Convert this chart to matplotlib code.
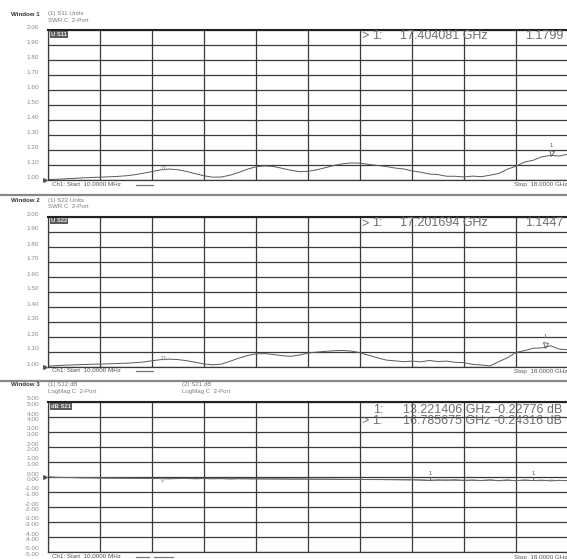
import matplotlib
matplotlib.use('Agg')
import matplotlib.pyplot as plt
import matplotlib.transforms as mtrans
import numpy as np

plt.rcParams['font.family'] = ['Liberation Sans', 'DejaVu Sans']

# ---------------- data ----------------
START_GHZ = 0.01
STOP_GHZ = 18.0

S11_SWR = [1.003, 1.005, 1.008, 1.011, 1.014, 1.017, 1.019, 1.021, 1.024, 1.028,
           1.035, 1.045, 1.056, 1.068, 1.073, 1.068, 1.057, 1.042, 1.028, 1.019,
           1.020, 1.032, 1.050, 1.072, 1.088, 1.094, 1.090, 1.078, 1.065, 1.056,
           1.058, 1.068, 1.082, 1.097, 1.108, 1.114, 1.112, 1.104, 1.097, 1.090,
           1.080, 1.074, 1.061, 1.052, 1.040, 1.036, 1.025, 1.025, 1.020, 1.026,
           1.022, 1.032, 1.043, 1.072, 1.092, 1.120, 1.132, 1.155, 1.164, 1.160,
           1.172]

S22_SWR = [1.002, 1.006, 1.009, 1.011, 1.013, 1.015, 1.016, 1.018, 1.020, 1.022,
           1.025, 1.030, 1.038, 1.046, 1.049, 1.046, 1.039, 1.028, 1.017, 1.011,
           1.016, 1.035, 1.055, 1.073, 1.084, 1.086, 1.080, 1.072, 1.068, 1.076,
           1.090, 1.096, 1.101, 1.105, 1.107, 1.103, 1.092, 1.075, 1.058, 1.043,
           1.038, 1.032, 1.036, 1.031, 1.040, 1.033, 1.036, 1.028, 1.026, 1.014,
           1.010, 1.004, 1.032, 1.058, 1.094, 1.106, 1.122, 1.124, 1.138, 1.116,
           1.112]

S12_DB = [0.00, -0.02, -0.03, -0.04, -0.05, -0.05, -0.06, -0.07, -0.07, -0.08,
          -0.08, -0.09, -0.09, -0.10, -0.12, -0.10, -0.10, -0.11, -0.10, -0.11,
          -0.11, -0.12, -0.11, -0.12, -0.12, -0.13, -0.12, -0.13, -0.14, -0.13,
          -0.14, -0.15, -0.14, -0.15, -0.16, -0.15, -0.16, -0.17, -0.16, -0.18,
          -0.17, -0.19, -0.18, -0.21, -0.23, -0.19, -0.22, -0.18, -0.24, -0.20,
          -0.23, -0.19, -0.25, -0.21, -0.24, -0.20, -0.24, -0.21, -0.26, -0.22,
          -0.25]

S21_DB = [0.00, -0.03, -0.04, -0.04, -0.06, -0.06, -0.07, -0.07, -0.08, -0.08,
          -0.09, -0.09, -0.10, -0.10, -0.11, -0.11, -0.10, -0.12, -0.11, -0.12,
          -0.11, -0.13, -0.12, -0.12, -0.13, -0.13, -0.14, -0.13, -0.14, -0.15,
          -0.14, -0.15, -0.16, -0.15, -0.15, -0.17, -0.16, -0.17, -0.18, -0.17,
          -0.19, -0.18, -0.20, -0.19, -0.21, -0.22, -0.19, -0.23, -0.20, -0.22,
          -0.24, -0.21, -0.23, -0.20, -0.25, -0.22, -0.23, -0.25, -0.21, -0.24,
          -0.23]

SWR_TICKS = [1.00, 1.10, 1.20, 1.30, 1.40, 1.50, 1.60, 1.70, 1.80, 1.90, 2.00]
DB_TICKS = [-5.00, -4.00, -3.00, -2.00, -1.00, 0.00, 1.00, 2.00, 3.00, 4.00, 5.00]

W1_MARK_F, W1_MARK_V = 17.404081, 1.1799
W2_MARK_F, W2_MARK_V = 17.201694, 1.1447
W3_MARK_F = [13.221406, 16.785675]
W3_MARK_V = [-0.22776, -0.24316]
AUX_MARK_F = 4.0   # faint secondary marker seen in every window

# ---------------- layout ----------------
W, H = 567, 559
fig = plt.figure(figsize=(W / 100, H / 100), dpi=100)
fig.patch.set_facecolor('white')

def fx(px):
    return px / W

def fy(py):
    return 1 - py / H

GRID = '#3a3a3a'
TRACE = '#5a5a5a'
LABEL = '#8a8a8a'
BIG = '#6e6e6e'

def make_ax(top, bottom, ylim, yticks, double=False):
    ax = fig.add_axes([fx(48), fy(bottom), fx(568) - fx(48), fy(top) - fy(bottom)])
    ax.set_xlim(START_GHZ, STOP_GHZ)
    ax.set_ylim(*ylim)
    ax.set_xticks(np.linspace(START_GHZ, STOP_GHZ, 11))
    ax.set_yticks(yticks)
    ax.tick_params(length=0, labelleft=False, labelbottom=False)
    ax.grid(True, color=GRID, lw=0.9)
    for s in ax.spines.values():
        s.set_color(GRID)
        s.set_linewidth(0.9)
    ax.spines['top'].set_linewidth(1.5)
    ax.spines['top'].set_color('#222222')
    for v in yticks:
        offs = [3, -2.5] if double else [2.5]
        for o in offs:
            ax.annotate(f'{v:.2f}', xy=(0, v), xycoords=('axes fraction', 'data'),
                        xytext=(-9, o), textcoords='offset pixels',
                        ha='right', va='center', fontsize=4.6, color=LABEL)
    return ax

def ref_arrow(ax, v):
    tr = mtrans.blended_transform_factory(ax.transAxes, ax.transData)
    ax.plot([-0.005], [v], marker='>', ms=2.6, color='#555555', transform=tr,
            clip_on=False, lw=0)

def header(y, win, lines):
    fig.text(fx(11), fy(y), win, fontsize=4.4, weight='bold', color='#333333', va='center')
    for (x, yy, t) in lines:
        fig.text(fx(x), fy(yy), t, fontsize=4.4, color='#7a7a7a', va='center')

def footer(y, nlines):
    fig.text(fx(52), fy(y), 'Ch1: Start  10.0000 MHz', fontsize=4.5, color='#555555', va='center')
    segs = [(136, 153)] if nlines == 1 else [(136, 149), (154, 173)]
    for a, b in segs:
        fig.add_artist(plt.Line2D([fx(a), fx(b)], [fy(y), fy(y)], color='#777777', lw=0.9))
    fig.text(fx(514), fy(y), 'Stop  18.0000 GHz', fontsize=4.5, color='#555555', va='center')

def tag(x, y, t):
    fig.text(fx(x), fy(y), t, fontsize=4.2, color='#e8e8e8', va='center', weight='bold',
             bbox=dict(boxstyle='square,pad=0.15', fc='#5c5c5c', ec='none'))

def big(y, parts):
    for x, t in parts:
        fig.text(fx(x), fy(y), t, fontsize=9, color=BIG, va='center')

def marker(ax, f, v, label='1', dy=3.0):
    ax.plot([f], [v], marker='v', ms=3.6, mfc='none', mec='#555555', mew=0.6, lw=0)
    ax.annotate(label, xy=(f, v), xytext=(0, dy + 5), textcoords='offset pixels',
                ha='center', va='center', fontsize=4.2, color='#555555')

def aux_marker(ax, f, v):
    ax.plot([f], [v], marker='v', ms=2.6, mfc='none', mec='#9a9a9a', mew=0.5, lw=0)

def sweep(vals):
    return np.linspace(START_GHZ, STOP_GHZ, len(vals))

# ---------------- Window 1 ----------------
header(14, 'Window 1', [(48, 13.5, '(1) S11 Units'), (48, 20, 'SWR C  2-Port')])
ax1 = make_ax(30, 180, (1.0, 2.0), SWR_TICKS)
f1 = sweep(S11_SWR)
ax1.plot(f1, S11_SWR, color=TRACE, lw=0.7)
ref_arrow(ax1, 1.0)
marker(ax1, W1_MARK_F, W1_MARK_V)
aux_marker(ax1, AUX_MARK_F, np.interp(AUX_MARK_F, f1, S11_SWR) + 0.008)
tag(51, 34.5, 'U S11')
big(36, [(361, '>'), (372, '1:'), (400, '17.404081 GHz'), (525, f'{W1_MARK_V:.4f}')])
footer(184.5, 1)

fig.add_artist(plt.Line2D([0, 1], [fy(195), fy(195)], color='#888888', lw=1.6))

# ---------------- Window 2 ----------------
header(201, 'Window 2', [(48, 200.5, '(1) S22 Units'), (48, 207, 'SWR C  2-Port')])
ax2 = make_ax(216.5, 366.5, (1.0, 2.0), SWR_TICKS)
f2 = sweep(S22_SWR)
ax2.plot(f2, S22_SWR, color=TRACE, lw=0.7)
ref_arrow(ax2, 1.0)
marker(ax2, W2_MARK_F, W2_MARK_V)
aux_marker(ax2, AUX_MARK_F, np.interp(AUX_MARK_F, f2, S22_SWR) + 0.008)
tag(51, 221, 'U S22')
big(223.5, [(361, '>'), (372, '1:'), (400, '17.201694 GHz'), (525, f'{W2_MARK_V:.4f}')])
footer(371, 1)

fig.add_artist(plt.Line2D([0, 1], [fy(381), fy(381)], color='#888888', lw=1.6))

# ---------------- Window 3 ----------------
header(385, 'Window 3', [(48, 384.5, '(1) S12 dB'), (48, 391.5, 'LogMag C  2-Port'),
                         (182, 384.5, '(2) S21 dB'), (182, 391.5, 'LogMag C  2-Port')])
ax3 = make_ax(402, 552, (-5.0, 5.0), DB_TICKS, double=True)
f3 = sweep(S12_DB)
ax3.plot(f3, S12_DB, color=TRACE, lw=0.7)
ax3.plot(sweep(S21_DB), S21_DB, color='#6a6a6a', lw=0.6)
ref_arrow(ax3, 0.0)
for f, v in zip(W3_MARK_F, W3_MARK_V):
    ax3.plot([f, f], [v + 0.05, v + 0.25], color='#555555', lw=0.6)
    ax3.annotate('1', xy=(f, v), xytext=(0, 7), textcoords='offset pixels',
                 ha='center', va='center', fontsize=4.2, color='#555555')
aux_marker(ax3, AUX_MARK_F - 0.06, -0.2)
tag(51, 406.5, 'dB S21')
big(410, [(373, '1:'), (403, f'{W3_MARK_F[0]:.6f} GHz {W3_MARK_V[0]:.5f} dB')])
big(420.5, [(361, '>'), (372, '1:'), (403, f'{W3_MARK_F[1]:.6f} GHz {W3_MARK_V[1]:.5f} dB')])
footer(557, 2)

fig.savefig('out.png', dpi=100)
